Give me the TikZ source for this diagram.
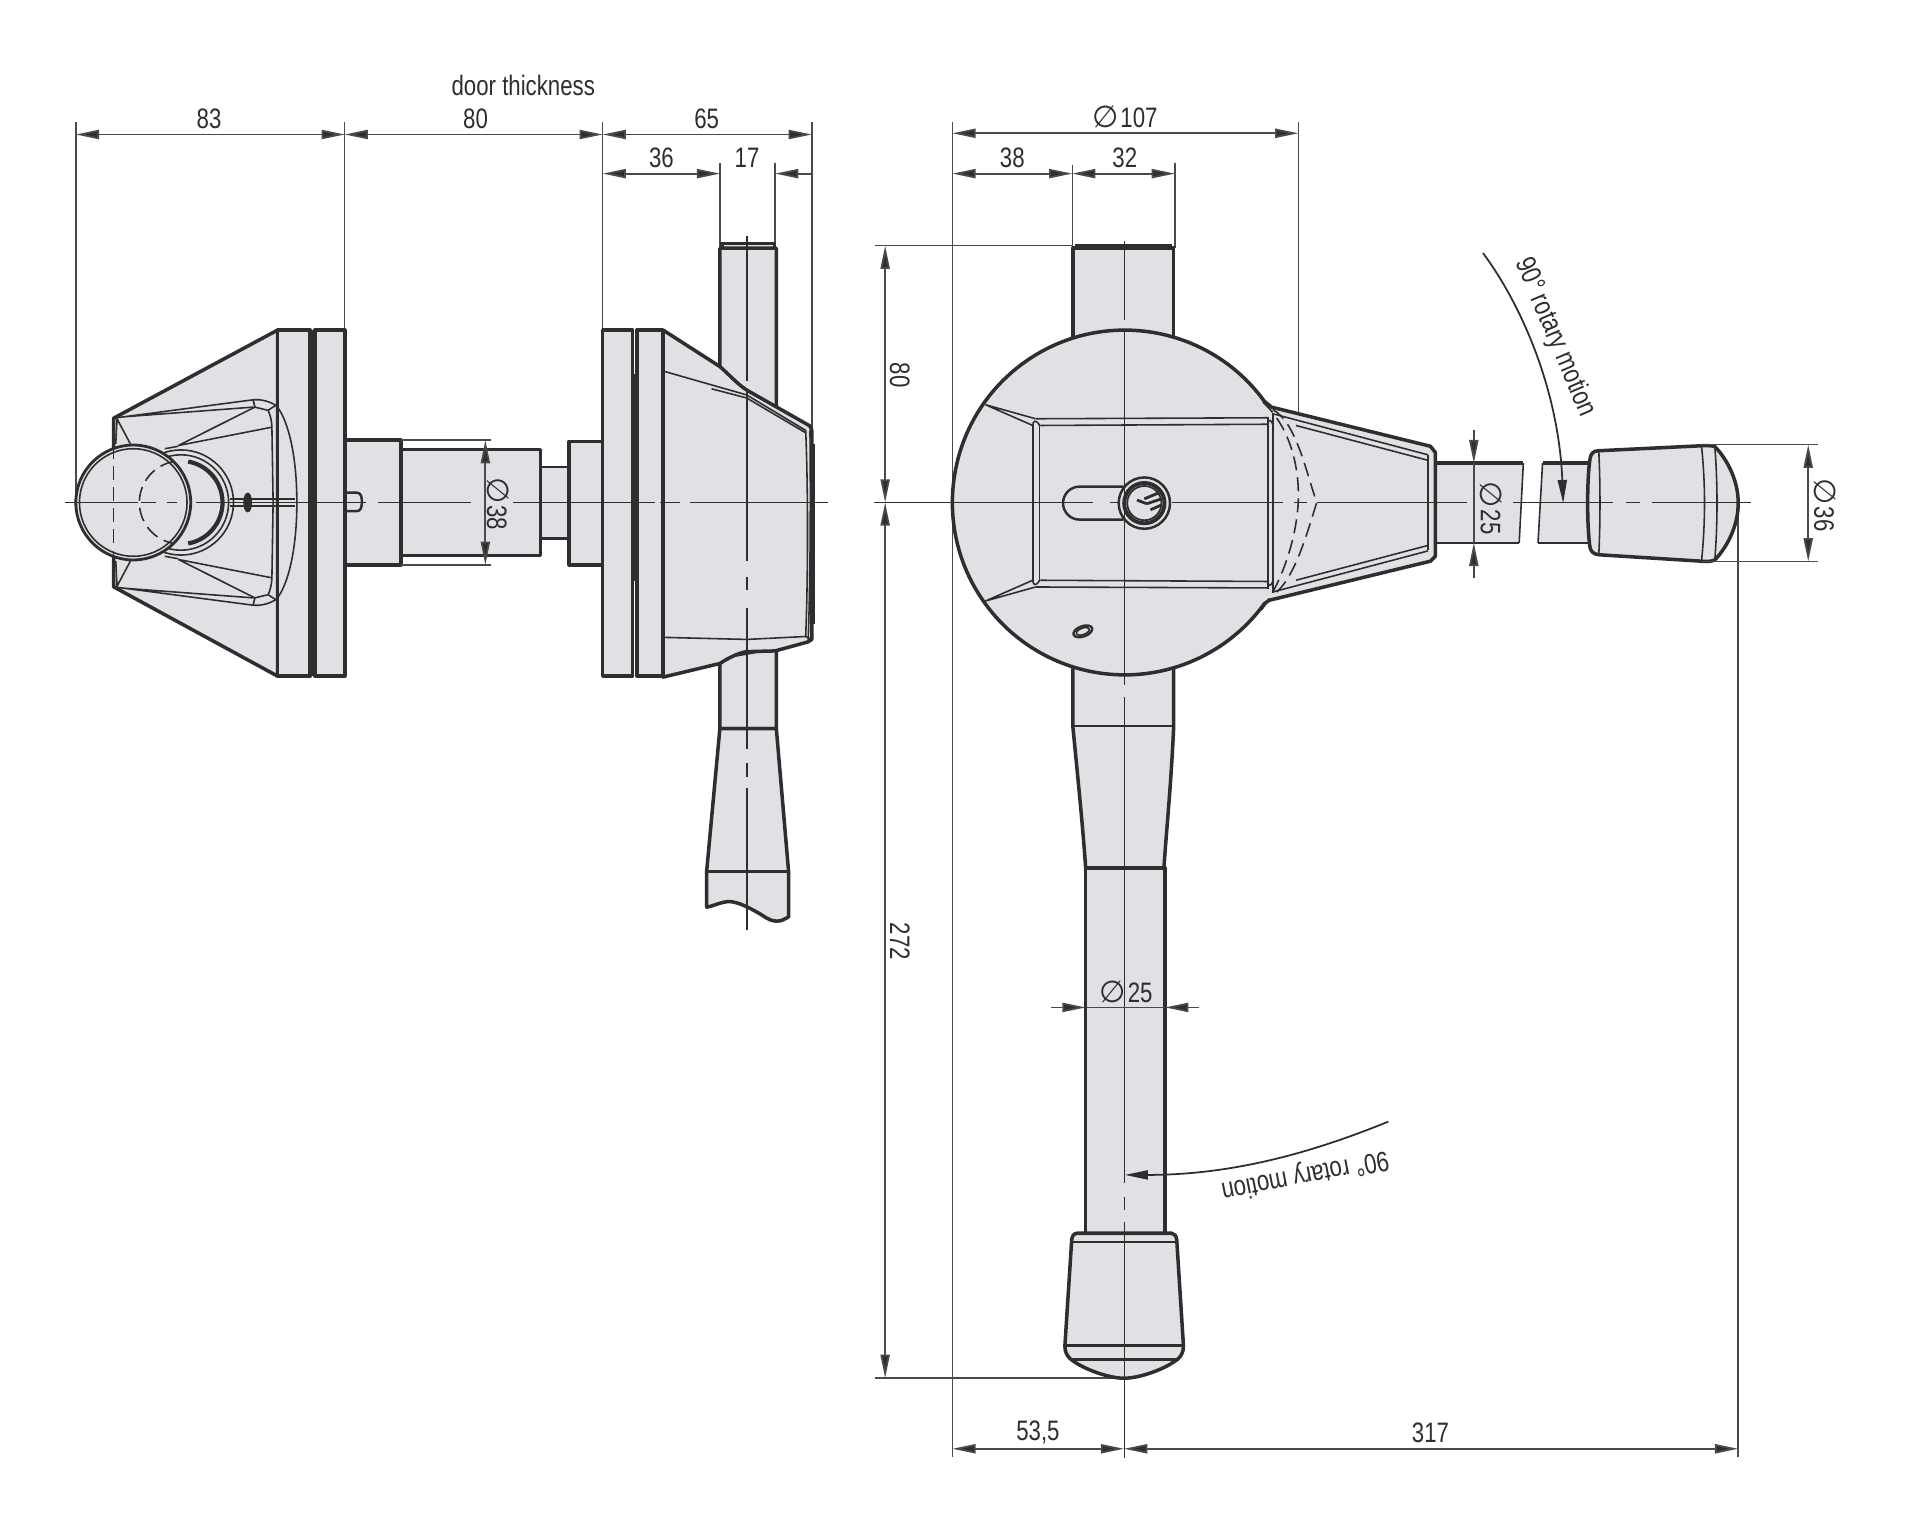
\documentclass[tikz,border=0pt]{standalone}
\usepackage{fontspec}
\setmainfont[FakeStretch=0.79]{Liberation Sans}
\newfontfamily\djv[FakeStretch=1.0]{DejaVu Sans}
\usetikzlibrary{arrows.meta}
\definecolor{fillgray}{HTML}{DFE1E4}
\definecolor{ink}{HTML}{2E2E2E}
\definecolor{dimc}{HTML}{4A4A4A}
\newcommand{\dia}{{\djv\fontsize{8.6pt}{9pt}\selectfont ∅}\kern0.6pt}
\tikzset{
  part/.style={draw=ink,fill=fillgray,line width=1pt,line join=round},
  heavy/.style={draw=ink,line width=1pt,line join=round},
  fine/.style={draw=ink,line width=0.45pt,line join=round},
  medium/.style={draw=ink,line width=0.7pt,line join=round},
  hidden/.style={draw=ink,line width=0.45pt,dash pattern=on 4pt off 2pt},
  centerl/.style={draw=ink,line width=0.4pt},
  extl/.style={draw=dimc,line width=0.4pt},
  dimboth/.style={draw=dimc,line width=0.5pt,{Triangle[length=6.6pt,width=2.6pt,fill=ink]}-{Triangle[length=6.6pt,width=2.6pt,fill=ink]}},
  dimend/.style={draw=dimc,line width=0.5pt,-{Triangle[length=6.6pt,width=2.6pt,fill=ink]}},
  lbl/.style={inner sep=0pt,text=ink,font=\fontsize{8pt}{9pt}\selectfont},
}
\newcommand{\leftdetail}{%
  \draw[fine] (93,342)--(207,327) (100,341)--(207,333) (207,327)--(208.5,333);
  \draw[fine] (208.5,333)--(145.8,364.4) (145.8,364.4)--(222.4,349.4);
  \draw[fine] (207,327) .. controls (212,326.5) and (219,327.5) .. (225.6,331.5)
     .. controls (233,339) and (242.8,365) .. (242.8,411);
  \draw[fine] (208.5,333)--(219.3,335.6) .. controls (221,339) and (222.4,345) .. (222.4,349.4) -- (223.4,411);
  \draw[fine] (225.6,331.5)--(219.3,335.6);
  \draw[fine] (94.7,363)--(95.7,342.5)--(106.6,363);
  \draw[fine] (134.8,367)--(145.8,365);
  \draw[fine] (188,408.3)--(241,408.3);
}
\newcommand{\conedetail}{%
  \draw[fine] (1041,338.4)--(1168,372) (1060,348)--(1168,376.5);
  \draw[fine] (847,342.5)--(1037,341.7) (851,348)--(1037,347);
  \draw[fine] (806,331)--(847,342.5) (806,331)--(844.7,348);
  \draw[fine] (844.7,348) .. controls (845,344) and (847,342.5) .. (850.4,348);
  \draw[fine] (1037,347) .. controls (1037.5,343.5) and (1039,342) .. (1041,347);
}
\begin{document}
\begin{tikzpicture}[x=0.012226cm,y=-0.012226cm]
\useasboundingbox (0,0) rectangle (1568,1251.4);
\fill[white] (0,0) rectangle (1568,1251.4);

% ---------- extension lines
\draw[extl] (62,100)--(62,411) (282,100)--(282,270) (493,100)--(493,270) (664,100)--(664,350);
\draw[extl] (589,133)--(589,203) (634,133)--(634,203);
\draw[extl] (779,100)--(779,1192) (1062,100)--(1062,345);
\draw[extl] (877,135)--(877,203) (961,133)--(961,203);
\draw[extl] (716,201)--(878,201) (716,1127)--(919,1127);
\draw[extl] (1421.7,411)--(1421.7,1192);

% ---------- LEFT VIEW: knob side
\filldraw[part] (227,270)--(93,342)--(93,480)--(227,553)--cycle;
\filldraw[part] (227,270) rectangle (253.7,553);
\filldraw[part] (257.5,270) rectangle (282,553);
\fill[ink] (253.7,270) rectangle (257.5,553);
\leftdetail
\begin{scope}[shift={(0,822)},yscale=-1]\leftdetail\end{scope}
\filldraw[fine,fill=fillgray] (148,411) circle[radius=43];
\draw[fine] (148,411) circle[radius=39];
\draw[fine] (188,408.3)--(192,408.3);
\draw[heavy,line width=1.2pt] (148,411) ++(-80:34) arc[start angle=-80,end angle=80,radius=34];
\filldraw[ink] (202.6,411) ellipse[x radius=3,y radius=7.5];
\filldraw[part,line width=0.8pt] (109,411) circle[radius=47];
\draw[fine] (109,411) circle[radius=44];
\draw[hidden] (148,411) ++(-100:34) arc[start angle=-100,end angle=-260,radius=34];
\draw[hidden] (93,364)--(93,458);

% shaft
\filldraw[part] (282,360) rectangle (328,462);
\filldraw[part] (328,367.7) rectangle (442,454.3);
\filldraw[part,line width=0.7pt] (442,382) rectangle (465.6,440.6);
\filldraw[part] (465.6,361) rectangle (493,462);
\draw[medium] (283.5,403) -- (292,403) .. controls (295,403) and (296,406) .. (296,410.5) .. controls (296,415) and (295,418) .. (292,418) -- (283.5,418);
\draw[extl] (328,360)--(402,360) (328,462)--(402,462);

% ---------- LEFT VIEW: handle side
\filldraw[part] (590.5,199) rectangle (633.5,203.5);
\filldraw[part] (588.8,203)--(635,203)--(635,335)--(588.8,305)--cycle;
\filldraw[part] (588.8,538) -- (635,530) -- (635,596) -- (588.8,596) -- cycle;
\filldraw[part] (588.8,596)--(635,596)--(645,712.7)--(645,750)
   .. controls (641,752) and (639,753.6) .. (635,753.4) .. controls (628,753) and (625,749) .. (619,746)
   .. controls (612,742) and (604,738) .. (597,737.4) .. controls (590,737.4) and (584,741) .. (578,742)
   -- (578,712.7) -- cycle;
\draw[medium] (578,712.7)--(645,712.7);
\filldraw[part] (493,270) rectangle (517.3,553);
\filldraw[part] (521,270) rectangle (542,553);
\fill[ink] (517.3,306) rectangle (521,475);
\filldraw[part] (542.4,270)--(588.8,299.8) .. controls (596,306) and (603,314) .. (610.7,319)
   -- (662.5,348.4) -- (664,352) -- (664,523) -- (661,525) -- (634,532.4) -- (610.7,533)
   .. controls (604,534) and (596,538) .. (588.8,542.7) -- (542.4,553.8) -- cycle;
\draw[fine] (542.4,303.5)--(610.7,323)--(659,352) (582,318)--(610.7,325.5)--(659,354);
\draw[fine] (542.4,521.3)--(610.7,523)--(659,520.6);
\draw[fine] (659,352) .. controls (661,400) and (661,470) .. (659,520.6)--(664,523);
\draw[fine] (662.5,352) .. controls (663,400) and (663,470) .. (661,525);
\fill[ink] (664,363) rectangle (666.6,510);

% ---------- RIGHT VIEW
\filldraw[part] (877.5,203) rectangle (960,290);
\draw[medium] (879,200.5)--(959,200.5);
\filldraw[part] (877.5,530)--(960,530)--(960,594)
   .. controls (958,640) and (954,680) .. (952,710) -- (888,710) .. controls (886,680) and (882,640) .. (877.5,594) -- cycle;
\draw[medium] (877.5,594)--(960,594);
\filldraw[part] (888,710) rectangle (953,1010);
\filldraw[part] (881,1008.7) .. controls (878,1009) and (877,1011) .. (876.6,1014) -- (871,1101)
   .. controls (871,1106) and (873,1109) .. (875,1111) .. controls (884,1119) and (906,1127.3) .. (919.4,1127.3)
   .. controls (933,1127.3) and (955,1119) .. (964,1111) .. controls (966,1109) and (968,1106) .. (968,1101)
   -- (962.5,1014) .. controls (962,1011) and (961,1009) .. (958.4,1008.7) -- cycle;
\draw[fine] (877,1016)--(962,1016);
\draw[medium] (871.5,1100.6)--(967.5,1100.6) (875,1112)--(964,1112);

\fill[fillgray] (1174,378.8)--(1246,378.8)--(1242.6,444)--(1174,444)--cycle;
\fill[fillgray] (1261.7,378.8)--(1301,378.8)--(1301,444)--(1258,444)--cycle;
\draw[heavy] (1174,378.8)--(1246,378.8) (1261.7,378.8)--(1301,378.8);
\draw[medium] (1174,444)--(1242.6,444) (1258,444)--(1301,444);
\draw[fine] (1246,378.8)--(1242.6,444) (1261.7,378.8)--(1258,444);

\filldraw[part] (920,411) ++(-36:141) arc[start angle=-36,end angle=-324,radius=141]
   -- (1038,491) -- (1170,459) -- (1174,455) -- (1174,370) -- (1170,365) -- (1040,333) -- cycle;
\conedetail
\begin{scope}[shift={(0,822.6)},yscale=-1]\conedetail\end{scope}
\draw[fine] (844.7,347)--(844.7,476) (850.4,348)--(850.4,475);
\draw[medium] (1037,341)--(1037,482);
\draw[fine] (1041,338)--(1041,485);
\draw[fine] (1168,372)--(1168,450);
\draw[hidden] (1041,335) .. controls (1060,345) and (1068,385) .. (1077,411) .. controls (1068,440) and (1058,475) .. (1041,487);
\draw[hidden] (1033,329) .. controls (1052,346) and (1062,375) .. (1062,405) .. controls (1062,435) and (1050,475) .. (1031,500);

% keyhole
\draw[medium] (919,398)--(883,398) arc[start angle=-90,end angle=-270,radius=13.5] -- (919,425);
\filldraw[medium,fill=fillgray] (936,411.5) circle[radius=21];
\draw[line width=1.1pt,draw=ink] (936,411.5) circle[radius=16.5];
\draw[line width=0.5pt,draw=ink] (936,411.5) circle[radius=14];
\draw[line width=0.8pt,draw=ink] (930,409)--(938,412) (936,408)--(948,403) (938,412)--(950,408) (941,417)--(950,413);
\filldraw[medium,fill=fillgray,rotate around={20:(885.7,516.4)}] (885.7,516.4) ellipse[x radius=8,y radius=4.2];
\draw[fine,rotate around={20:(885.7,516.4)}] (885.7,516.4) ellipse[x radius=5.5,y radius=2.6];

% end knob
\filldraw[part] (1300.4,376) .. controls (1301,371) and (1303,369) .. (1307,368.7) -- (1391.7,364.6)
   .. controls (1396,364.3) and (1400,364.5) .. (1402.6,365.2) .. controls (1414,377) and (1422,395) .. (1421.7,411.5)
   .. controls (1422,428) and (1414,446) .. (1402.6,458) .. controls (1400,459.3) and (1396,459.5) .. (1391.7,459)
   -- (1308.6,453.8) .. controls (1303,453.5) and (1301,451) .. (1300.4,447)
   .. controls (1298,430) and (1298,393) .. (1300.4,376) -- cycle;
\draw[fine] (1307.7,368.7) .. controls (1309,395) and (1309,428) .. (1307.7,454);
\draw[fine] (1391.7,364.6) .. controls (1395,395) and (1395,428) .. (1391.7,459);
\draw[fine] (1402.6,365.2) .. controls (1405,395) and (1405,428) .. (1402.6,458);

% ---------- centre lines
\draw[centerl] (53,411)--(113,411) (115,411)--(128,411) (137,411)--(145,411) (160,411)--(299,411) (309,411)--(385,411) (420,411)--(536,411) (540,411)--(556,411) (564,411)--(677.5,411);
\draw[centerl] (188,413.7)--(241,413.7);
\draw[centerl] (611,193)--(611,312) (611,321)--(611,459) (611,471.7)--(611,482.7) (611,497)--(611,613) (611,624.4)--(611,635.4) (611,644.6)--(611,760.5);
\draw[centerl] (715,411)--(894,411) (908,411)--(916,411) (959,411)--(1049,411) (1058.6,411)--(1069,411) (1077,411)--(1199.5,411) (1237.7,411)--(1319.5,411) (1330,411)--(1341,411) (1351,411)--(1432.6,411);
\draw[centerl] (920,197)--(920,262) (920,270)--(920,560) (920,570)--(920,968) (920,978.8)--(920,989.7) (920,999.2)--(920,1192.7);

% ---------- dimensions
\draw[dimboth] (62,110)--(282,110);
\draw[dimboth] (282,110)--(493,110);
\draw[dimboth] (493,110)--(664,110);
\draw[dimboth] (493,142)--(589,142);
\draw[dimend] (664,142)--(634,142);
\draw[dimboth] (779,109)--(1062,109);
\draw[dimboth] (779,142)--(877,142);
\draw[dimboth] (877,142)--(961,142);
\draw[dimboth] (724,201)--(724,411);
\draw[dimboth] (724,411)--(724,1127);
\draw[dimboth] (779,1185)--(919.4,1185);
\draw[dimboth] (919.4,1185)--(1421.7,1185);
\draw[dimboth] (397,360)--(397,462);
\draw[dimend] (1205.5,351.6)--(1205.5,378.8);
\draw[dimend] (1205.5,473)--(1205.5,444);
\draw[extl] (1205.5,378.8)--(1205.5,444);
\draw[dimend] (860,824)--(888,824);
\draw[dimend] (981,824)--(953,824);
\draw[extl] (888,824)--(953,824);
\draw[extl] (1392,363.8)--(1487,363.8) (1392,459.2)--(1487,459.2);
\draw[dimboth] (1479,363.8)--(1479,459.2);

% rotary arrows
\draw[dimend,draw=ink] (1213,207) .. controls (1245,250) and (1275,320) .. (1278.6,411.5);
\draw[dimend,draw=ink] (1135.6,917.4) .. controls (1075,942) and (1010,961) .. (920,961);

% ---------- labels
\node[lbl] (tdoor) at (428,70) {door thickness};
\node[lbl] (t83) at (171,97) {83};
\node[lbl] (t80a) at (389,97) {80};
\node[lbl] (t65) at (578,97) {65};
\node[lbl] (t36) at (541,129) {36};
\node[lbl] (t17) at (611,129) {17};
\node[lbl] (t107) at (920,96) {\dia 107};
\node[lbl] (t38a) at (828,129) {38};
\node[lbl] (t32) at (920,129) {32};
\node[lbl,rotate=-90] (t80b) at (736,307) {80};
\node[lbl,rotate=-90] (t272) at (736,770) {272};
\node[lbl,rotate=-90] (t38b) at (407,412) {\dia 38};
\node[lbl,rotate=-90] (t25a) at (1220,415.6) {\dia 25};
\node[lbl,rotate=-90] (t36b) at (1492.6,413) {\dia 36};
\node[lbl] (t25b) at (921,811) {\dia 25};
\node[lbl] (t535) at (849,1172) {53,5};
\node[lbl] (t317) at (1170,1172) {317};
\node[lbl,rotate=-67] (trot1) at (1272,276) {90° rotary motion};
\node[lbl,rotate=191] (trot2) at (1067.4,961) {90° rotary motion};
\end{tikzpicture}
\end{document}
